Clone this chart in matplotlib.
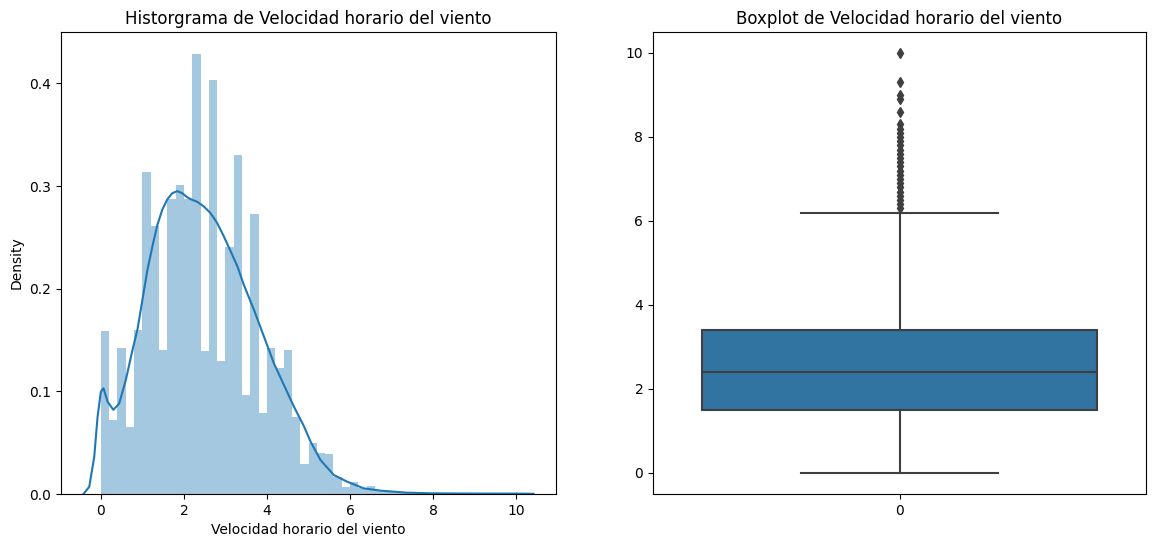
import matplotlib
matplotlib.use("Agg")
import matplotlib.pyplot as plt

# Histograma (densidad), 50 bins de ancho 0.2 entre 0 y 10
bin_edges = [round(0.2 * i, 1) for i in range(51)]
bin_density = [
    0.159, 0.072, 0.142, 0.065, 0.160, 0.314, 0.261, 0.140, 0.287, 0.301,
    0.287, 0.429, 0.139, 0.403, 0.130, 0.241, 0.330, 0.096, 0.273, 0.079,
    0.142, 0.123, 0.140, 0.075, 0.029, 0.050, 0.040, 0.039, 0.017, 0.007,
    0.012, 0.006, 0.008, 0.004, 0.003, 0.002, 0.002, 0.0015, 0.001, 0.001,
    0.001, 0.0008, 0.0006, 0.0005, 0.0004, 0.0004, 0.0003, 0.0003, 0.0003, 0.0005,
]

# Curva KDE
kde_x = [-0.42, -0.28, -0.16, -0.08, 0.0, 0.064, 0.16, 0.30, 0.44, 0.60,
         0.76, 0.88, 1.00, 1.12, 1.24, 1.36, 1.48, 1.60, 1.72, 1.84,
         1.96, 2.08, 2.20, 2.32, 2.48, 2.64, 2.80, 2.96, 3.13, 3.29,
         3.44, 3.69, 3.93, 4.17, 4.41, 4.65, 4.89, 5.05, 5.29, 5.61,
         5.93, 6.33, 6.73, 7.37, 7.93, 8.6, 9.3, 10.0, 10.42]
kde_y = [0.0, 0.007, 0.036, 0.075, 0.0997, 0.103, 0.090, 0.082, 0.088, 0.111,
         0.140, 0.160, 0.189, 0.218, 0.241, 0.262, 0.277, 0.287, 0.293, 0.295,
         0.293, 0.289, 0.2865, 0.2846, 0.280, 0.2736, 0.264, 0.251, 0.236, 0.2215,
         0.204, 0.179, 0.153, 0.127, 0.106, 0.085, 0.066, 0.051, 0.033, 0.0185,
         0.012, 0.0055, 0.0033, 0.0013, 0.0007, 0.0005, 0.0004, 0.0004, 0.0002]

# Boxplot
box_q1 = 1.5
box_med = 2.4
box_q3 = 3.4
whisker_low = 0.0
whisker_high = 6.2
outliers = [6.3, 6.4, 6.5, 6.6, 6.7, 6.8, 6.9, 7.0, 7.1, 7.2, 7.3, 7.4, 7.5,
            7.6, 7.7, 7.8, 7.9, 8.0, 8.1, 8.2, 8.3, 8.6, 8.9, 9.0, 9.3, 10.0]

var_name = "Velocidad horario del viento"

fig = plt.figure(figsize=(11.56, 5.47), dpi=100)
W, H = 1156, 547
ax1 = fig.add_axes([61 / W, (H - 494) / H, 495 / W, 462 / H])
ax2 = fig.add_axes([653 / W, (H - 494) / H, 493 / W, 462 / H])

# Histograma + KDE
ax1.stairs(bin_density, bin_edges, fill=True, color='#1f77b4', alpha=0.4,
           linewidth=0)
ax1.plot(kde_x, kde_y, color='#1f77b4', linewidth=1.5)
ax1.set_title(f"Historgrama de {var_name}", fontsize=12)
ax1.set_xlabel(var_name)
ax1.set_ylabel("Density")
ax1.set_xticks([0, 2, 4, 6, 8, 10])
ax1.set_yticks([0.0, 0.1, 0.2, 0.3, 0.4])
ax1.set_xlim(-0.96, 10.96)
ax1.set_ylim(0, 0.45)

# Boxplot
stats = [{
    'med': box_med, 'q1': box_q1, 'q3': box_q3,
    'whislo': whisker_low, 'whishi': whisker_high,
    'fliers': outliers,
}]
line_col = '#3f3f3f'
ax2.bxp(stats, positions=[0], widths=0.8, patch_artist=True,
        boxprops=dict(facecolor='#3274a1', edgecolor=line_col, linewidth=1.5),
        medianprops=dict(color=line_col, linewidth=1.5),
        whiskerprops=dict(color=line_col, linewidth=1.5),
        capprops=dict(color=line_col, linewidth=1.5),
        capwidths=0.4,
        flierprops=dict(marker='d', markerfacecolor=line_col,
                        markeredgecolor=line_col, markersize=5))
ax2.set_title(f"Boxplot de {var_name}", fontsize=12)
ax2.set_xlim(-0.5, 0.5)
ax2.set_ylim(-0.5, 10.5)
ax2.set_xticks([0])
ax2.set_xticklabels(["0"])
ax2.set_yticks([0, 2, 4, 6, 8, 10])

fig.savefig("out.png", dpi=100)
